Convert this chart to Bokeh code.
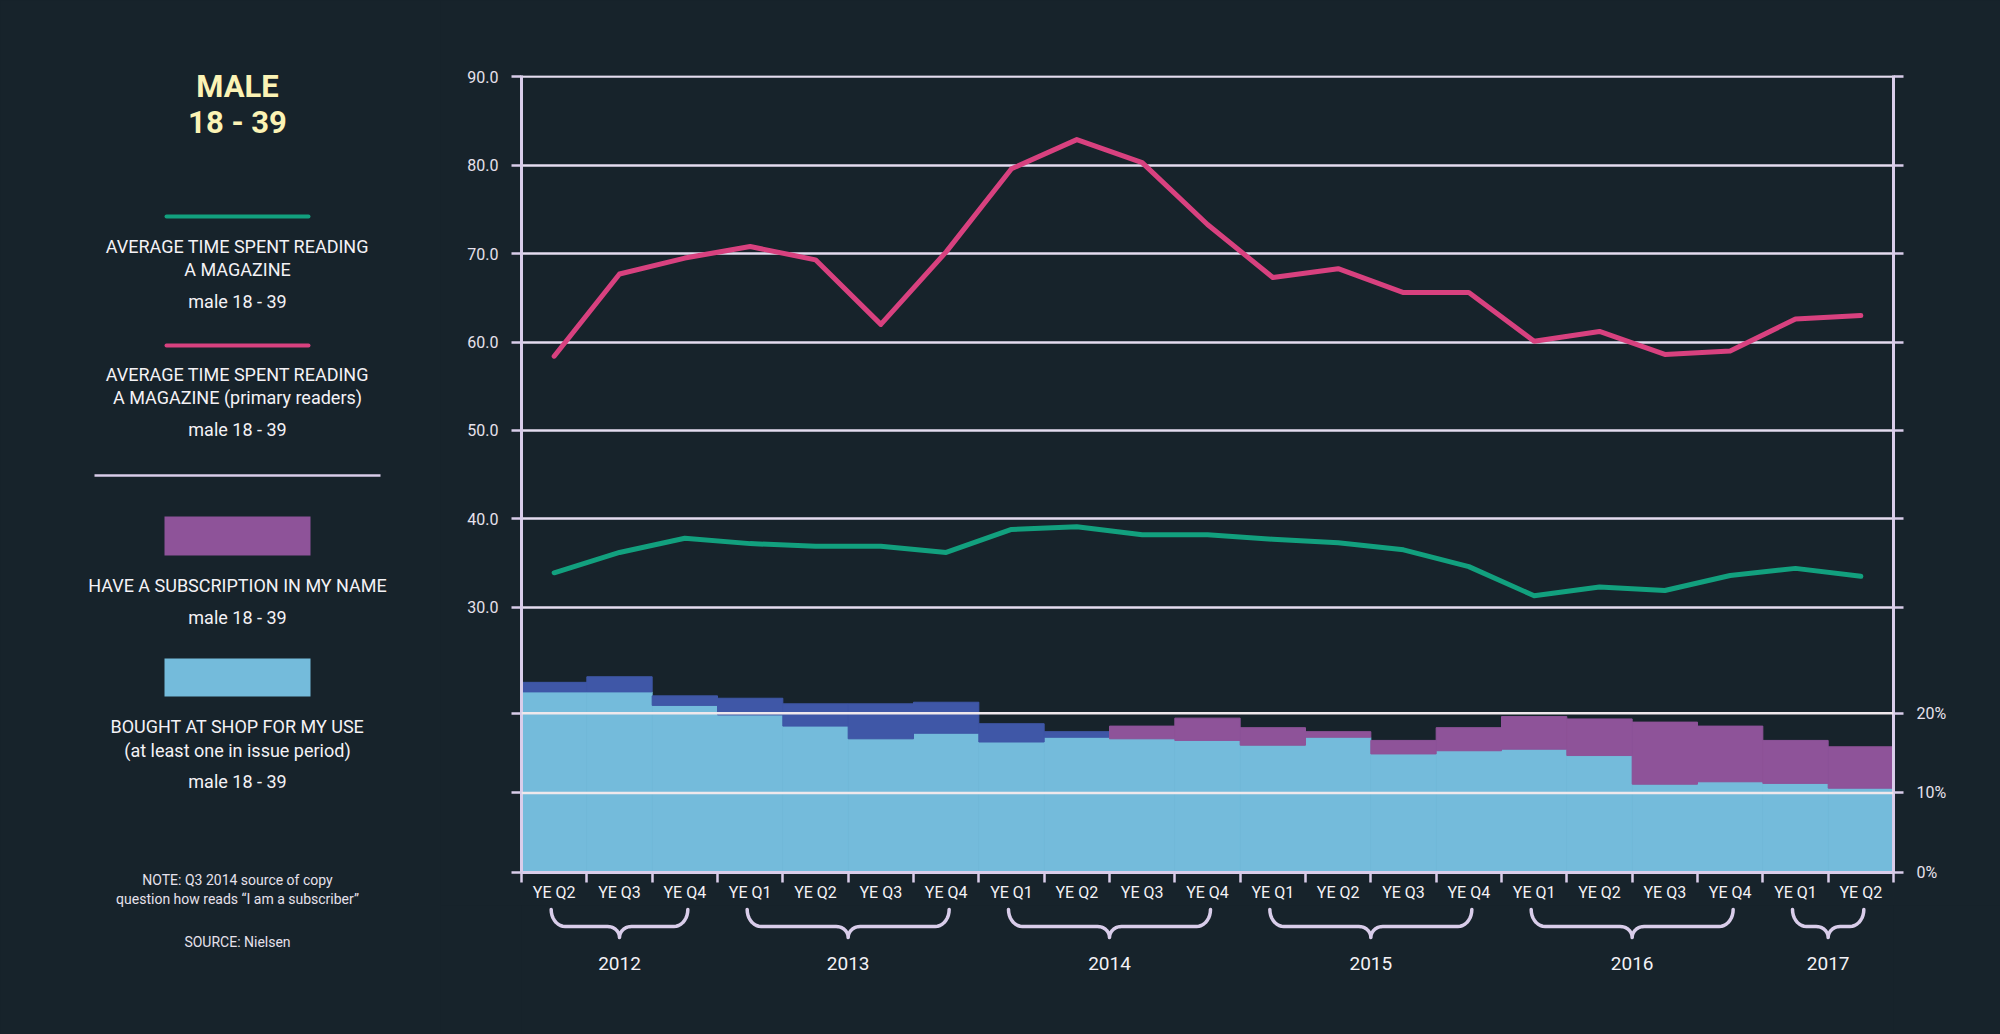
import math
import numpy as np
from bokeh.plotting import figure
from bokeh.layouts import row, column
from bokeh.models import (Range1d, FixedTicker, LinearAxis, Span,
                          ColumnDataSource, Grid)
from bokeh.core.properties import value
from bokeh.embed import file_html
from bokeh.resources import INLINE

# ---------------- data ----------------
years = ["2012", "2012", "2012",
         "2013", "2013", "2013", "2013",
         "2014", "2014", "2014", "2014",
         "2015", "2015", "2015", "2015",
         "2016", "2016", "2016", "2016",
         "2017", "2017"]
quarters = ["YE Q2", "YE Q3", "YE Q4",
            "YE Q1", "YE Q2", "YE Q3", "YE Q4",
            "YE Q1", "YE Q2", "YE Q3", "YE Q4",
            "YE Q1", "YE Q2", "YE Q3", "YE Q4",
            "YE Q1", "YE Q2", "YE Q3", "YE Q4",
            "YE Q1", "YE Q2"]
# average time spent reading a magazine (minutes), male 18-39
avg_time = [33.9, 36.2, 37.8, 37.2, 36.9, 36.9, 36.2, 38.8, 39.1, 38.2, 38.2,
            37.7, 37.3, 36.5, 34.6, 31.3, 32.3, 31.9, 33.6, 34.4, 33.5]
# average time spent reading a magazine (primary readers)
avg_time_primary = [58.4, 67.7, 69.5, 70.8, 69.3, 62.0, 70.2, 79.6, 82.9, 80.3, 73.3,
                    67.3, 68.3, 65.6, 65.6, 60.1, 61.2, 58.6, 59.0, 62.6, 63.0]
# bought at shop for my use (%)
shop_pct = [22.7, 22.7, 21.0, 19.8, 18.4, 16.8, 17.5, 16.4, 17.0, 16.8, 16.6,
            16.0, 17.0, 14.9, 15.3, 15.5, 14.7, 11.1, 11.4, 11.2, 10.6]
# have a subscription in my name (%), stacked on top
subscription_pct = [1.2, 1.9, 1.2, 2.1, 2.8, 4.4, 3.9, 2.3, 0.7, 1.6, 2.8,
                    2.2, 0.7, 1.7, 2.9, 4.1, 4.6, 7.8, 7.0, 5.4, 5.2]
# question wording: before / after the Q3 2014 change
question_version = ["old"] * 9 + ["new"] * 12

left_tick_values = [30, 40, 50, 60, 70, 80, 90]
right_tick_pct = [0, 10, 20]

# ---------------- style ----------------
FONT = "Roboto"
AXFONT = "Roboto"
BG = "#17232b"
LAV = "#d9cdea"
GRID = "#e4dcef"
PINK = "#d8417f"
GREEN = "#12a07e"
LIGHT_BLUE = "#74bbdb"
DARK_BLUE = "#3f57a7"
PURPLE = "#8e5399"
WHITE = "#f4f2f6"
NOTE_C = "#e6e1ec"
YELLOW = "#fbf3b5"
version_colors = {"old": DARK_BLUE, "new": PURPLE}

n = len(quarters)
Y_END = 90.15
PCT_SCALE = 0.9   # 1 % on the right axis = 0.9 units on the left axis

W, H = 2000, 1034
WL = 440                     # width of the left (legend) panel
FR_L, FR_R, FR_T, FR_B = 521, 1893, 75, 872
MAIN_H = 905
SX = (FR_R - FR_L) / n

common = dict(output_backend="svg", toolbar_location=None,
              background_fill_color=BG, border_fill_color=BG,
              outline_line_color=None)

# ---------------- main chart ----------------
x_range = Range1d(0, n)
p = figure(width=W - WL, height=MAIN_H, x_range=x_range, y_range=Range1d(0, Y_END),
           x_axis_location=None, y_axis_location=None,
           min_border_left=FR_L - WL, min_border_right=W - FR_R,
           min_border_top=FR_T, min_border_bottom=MAIN_H - FR_B, **common)
p.grid.visible = False
p.extra_y_ranges = {"pct": Range1d(0, Y_END / PCT_SCALE)}

x_centers = list(np.arange(n) + 0.5)
x_bounds = list(range(n + 1))

p.add_layout(Grid(dimension=1, ticker=FixedTicker(ticks=left_tick_values),
                  grid_line_color=GRID, grid_line_width=2.5))

src = ColumnDataSource(dict(
    x=x_centers, shop=shop_pct,
    top=[s + b for s, b in zip(shop_pct, subscription_pct)],
    color=[version_colors[v] for v in question_version]))
p.vbar(x="x", width=1.0, bottom=0, top="shop", source=src, y_range_name="pct",
       fill_color=LIGHT_BLUE, line_color=LIGHT_BLUE, line_width=1)
p.vbar(x="x", width=1.0, bottom="shop", top="top", source=src, y_range_name="pct",
       fill_color="color", line_color="color", line_width=1)

for pv in [10, 20]:
    p.add_layout(Span(location=pv, dimension="width", y_range_name="pct",
                      line_color="#efe8ec", line_width=2.5))

p.line(x_centers, avg_time_primary, line_color=PINK, line_width=5,
       line_join="round", line_cap="round")
p.line(x_centers, avg_time, line_color=GREEN, line_width=5,
       line_join="round", line_cap="round")

left_ticks = [pv * 90 / 100 for pv in right_tick_pct] + left_tick_values
left_over = {t: "" for t in left_ticks}
left_over.update({t: f"{t:.1f}" for t in left_tick_values})
right_over = {t: "" for t in left_ticks}
right_over.update({pv * 90 / 100: f"{pv}%" for pv in right_tick_pct})

axis_style = dict(axis_line_color=LAV, axis_line_width=3,
                  major_tick_line_color=LAV, major_tick_line_width=2.5,
                  major_tick_in=0, major_tick_out=10,
                  minor_tick_line_color=None,
                  major_label_text_color=NOTE_C,
                  major_label_text_font=AXFONT,
                  major_label_text_font_size="16px",
                  major_label_standoff=13)
p.add_layout(LinearAxis(ticker=FixedTicker(ticks=left_ticks),
                        major_label_overrides=left_over, **axis_style), "left")
p.add_layout(LinearAxis(ticker=FixedTicker(ticks=left_ticks),
                        major_label_overrides=right_over, **axis_style), "right")

p.add_layout(LinearAxis(ticker=FixedTicker(ticks=x_centers, minor_ticks=x_bounds),
                        major_label_overrides={c: q for c, q in zip(x_centers, quarters)},
                        axis_line_color=LAV, axis_line_width=3,
                        major_tick_line_color=None, major_tick_in=0, major_tick_out=0,
                        minor_tick_line_color=LAV, minor_tick_line_width=2.5,
                        minor_tick_in=0, minor_tick_out=10,
                        major_label_text_color=WHITE, major_label_text_font=AXFONT,
                        major_label_text_font_size="16px", major_label_standoff=0),
             "below")

# ---------------- year braces (below the chart) ----------------
pb = figure(width=W - WL, height=H - MAIN_H, x_range=x_range,
            y_range=Range1d(H, MAIN_H),
            x_axis_location=None, y_axis_location=None,
            min_border_left=FR_L - WL, min_border_right=W - FR_R,
            min_border_top=0, min_border_bottom=0, **common)
pb.grid.visible = False

year_list = []
for y in years:
    if y not in year_list:
        year_list.append(y)
year_centers = [float(np.mean([c for c, yy in zip(x_centers, years) if yy == y]))
                for y in year_list]


def brace(xa, xb, y_end=909, y_bar=926, y_tip=937, r=14, r2=12):
    """brace path; x in category units, y in pixels (panel range)"""
    rx, r2x = r / SX, r2 / SX
    xc = (xa + xb) / 2
    pts = []
    for t in np.linspace(0, math.pi / 2, 10):
        pts.append((xa + rx - rx * math.cos(t), y_end + (y_bar - y_end) * math.sin(t)))
    for t in np.linspace(0, math.pi / 2, 10):
        pts.append((xc - r2x + r2x * math.sin(t), y_tip - (y_tip - y_bar) * math.cos(t)))
    right = [(2 * xc - px, py) for px, py in reversed(pts)]
    path = pts + right[1:]
    return [a for a, _ in path], [b for _, b in path]


bx, by = [], []
for y in year_list:
    cs = [c for c, yy in zip(x_centers, years) if yy == y]
    xs, ys = brace(cs[0] - 3 / SX, cs[-1] + 3 / SX)
    bx.append(xs)
    by.append(ys)
pb.multi_line(bx, by, line_color=LAV, line_width=3.5, line_join="round", line_cap="round")
pb.text(x=year_centers, y=[963] * len(year_centers), text=year_list,
        text_align="center", text_baseline="middle", text_color=WHITE,
        text_font=value(AXFONT), text_font_size=value("19px"))

# ---------------- left panel (legend & notes) ----------------
pl = figure(width=WL, height=H, x_range=Range1d(0, WL), y_range=Range1d(H, 0),
            x_axis_location=None, y_axis_location=None,
            min_border_left=0, min_border_right=0, min_border_top=0, min_border_bottom=0,
            **common)
pl.grid.visible = False

CX = 237


def text(py, s, size="18px", color=WHITE, style="normal"):
    pl.text(x=[CX], y=[py], text=[s], text_align="center", text_baseline="middle",
            text_font=value(FONT), text_font_size=value(size),
            text_color=color, text_font_style=style)


text(86, "MALE", "31px", YELLOW, "bold")
text(122, "18 - 39", "31px", YELLOW, "bold")

pl.segment(x0=[166], y0=[216], x1=[308], y1=[216], line_color=GREEN, line_width=4, line_cap="round")
text(246, "AVERAGE TIME SPENT READING")
text(269, "A MAGAZINE")
text(301, "male 18 - 39")

pl.segment(x0=[166], y0=[345], x1=[308], y1=[345], line_color=PINK, line_width=4, line_cap="round")
text(374, "AVERAGE TIME SPENT READING")
text(397, "A MAGAZINE (primary readers)")
text(429, "male 18 - 39")

pl.segment(x0=[94], y0=[475], x1=[380], y1=[475], line_color=LAV, line_width=2.5)

pl.quad(left=[164], right=[310], top=[516], bottom=[555], fill_color=PURPLE, line_color=None)
text(585, "HAVE A SUBSCRIPTION IN MY NAME")
text(617, "male 18 - 39")

pl.quad(left=[164], right=[310], top=[658], bottom=[696], fill_color=LIGHT_BLUE, line_color=None)
text(726, "BOUGHT AT SHOP FOR MY USE")
text(750, "(at least one in issue period)")
text(781, "male 18 - 39")

text(879, "NOTE: Q3 2014 source of copy", "14px", NOTE_C)
text(898, "question how reads \u201cI am a subscriber\u201d", "14px", NOTE_C)
text(941, "SOURCE: Nielsen", "14px", NOTE_C)

layout = row(pl, column(p, pb))

html = file_html(layout, INLINE)
html = html.replace("<head>", "<head><style>html,body{background:%s;}</style>" % BG, 1)
open("out.html", "w").write(html)
